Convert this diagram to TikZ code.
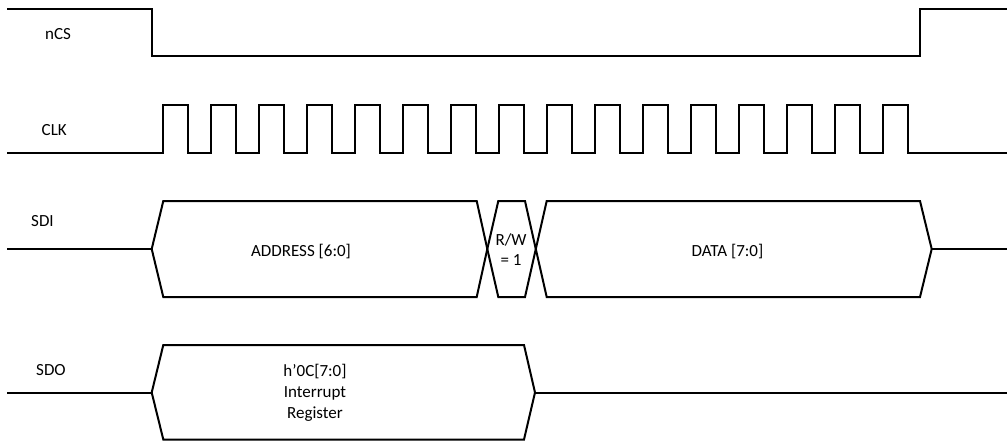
\documentclass[tikz,border=0pt]{standalone}
\usepackage{fontspec}
\setmainfont{Carlito}
\begin{document}
\begin{tikzpicture}[x=1pt,y=-1pt,
  sig/.style={line width=2pt, line join=miter},
  lbl/.style={font=\fontsize{17}{21}\selectfont, inner sep=0pt, anchor=base west},
  txt/.style={font=\fontsize{17}{21}\selectfont, inner sep=0pt, align=center, anchor=base}]
\useasboundingbox (0,0) rectangle (1007,442);
% labels
\node[lbl] (lncs) at (45,39.3) {nCS};
\node[lbl] (lclk) at (41.5,135) {CLK};
\node[lbl] (lsdi) at (31,226) {SDI};
\node[lbl] (lsdo) at (36,375) {SDO};
% nCS
\draw[sig] (7,9) -- (152,9) -- (152,56) -- (920,56) -- (920,9) -- (1007,9);
% CLK
\draw[sig] (7,153) foreach \k in {0,...,15} { -- ({163+48*\k},153) -- ({163+48*\k},105) -- ({188+48*\k},105) -- ({188+48*\k},153) } -- (1007,153);
% SDI
\draw[sig] (7,249) -- (151.7,249);
\draw[sig] (151.7,249) -- (163.3,201) -- (476.7,201) -- (487.3,249) -- (476.7,297) -- (163.3,297) -- cycle;
\draw[sig] (487.3,249) -- (498.3,201) -- (525,201) -- (535.8,249) -- (525,297) -- (498.3,297) -- cycle;
\draw[sig] (535.8,249) -- (546.7,201) -- (920,201) -- (931.7,249) -- (920,297) -- (546.7,297) -- cycle;
\draw[sig] (931.7,249) -- (1007,249);
\node[txt] (addr) at (301,256) {ADDRESS [6:0]};
\node[txt, font=\fontsize{17}{20}\selectfont] (rw) at (511,265) {R/W\\= 1};
\node[txt] (data) at (727.5,256) {DATA [7:0]};
% SDO
\draw[sig] (7,392.5) -- (151.7,392.5);
\draw[sig] (151.7,392.5) -- (163.3,345) -- (524,345) -- (535,392.5) -- (524,439.5) -- (163.3,439.5) -- cycle;
\draw[sig] (535,392.5) -- (1007,392.5);
\node[txt] (reg) at (315,418.5) {h’0C[7:0]\\Interrupt\\Register};
\end{tikzpicture}
\end{document}
